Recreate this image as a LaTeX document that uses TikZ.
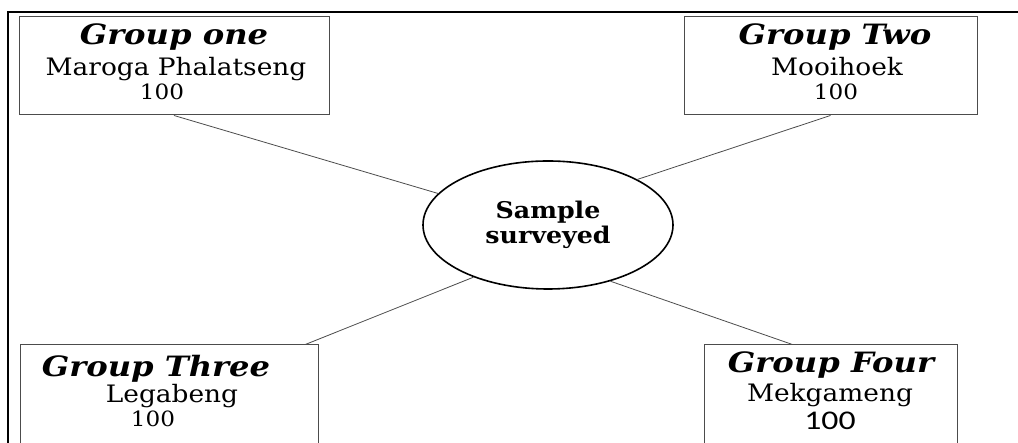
\documentclass[tikz,border=0pt]{standalone}
\usepackage{fontspec}
\setmainfont{DejaVu Serif}[FakeStretch=1.1]
\newfontfamily\titlefont{DejaVu Serif}[FakeStretch=1.15,UprightFont=*,BoldItalicFont=* Bold Italic]
\newfontfamily\carlito{Carlito}[FakeStretch=1.25]
\usetikzlibrary{shapes.geometric,calc}
\tikzset{
  grpbox/.style={draw=black!70, line width=1pt, rectangle, inner sep=0pt, anchor=center},
  title/.style={font=\titlefont\fontsize{28}{32}\selectfont\bfseries\itshape, inner sep=0pt, anchor=base},
  body/.style={font=\fontsize{24}{28}\selectfont, inner sep=0pt, anchor=base},
  num/.style={font=\fontsize{21}{24}\selectfont, inner sep=0pt, anchor=base},
  conn/.style={draw=black!70, line width=0.8pt},
  centre/.style={draw=black, line width=1.6pt, ellipse, inner sep=0pt, minimum width=250pt, minimum height=128pt, align=center, font=\fontsize{23}{25}\selectfont\bfseries}
}
\begin{document}
\begin{tikzpicture}[x=1pt,y=1pt]
\useasboundingbox (0,0) rectangle (1018,443);
\clip (0,0) rectangle (1018,443);
% frame
\coordinate (fa) at (8,0);
\coordinate (fb) at (8,431);
\coordinate (fc) at (1018,431);
\draw[line width=1.4pt] (fa) -- (fb) -- (fc);
% boxes
\node[grpbox, minimum width=310pt, minimum height=98pt] (g1) at (174,377) {};
\node[grpbox, minimum width=293pt, minimum height=98pt] (g2) at (830.5,377) {};
\node[grpbox, minimum width=298pt, minimum height=110pt] (g3) at (169,43) {};
\node[grpbox, minimum width=253pt, minimum height=110pt] (g4) at (830.5,43) {};
% texts
\node[title] (g1a) at (174,398) {Group one};
\node[body]  (g1b) at (176,367) {Maroga Phalatseng};
\node[num]   (g1c) at (162,343) {100};
\node[title] (g2a) at (835,398) {Group Two};
\node[body]  (g2b) at (837,367) {Mooihoek};
\node[num]   (g2c) at (836,343) {100};
\node[title] (g3a) at (156,66) {Group Three};
\node[body]  (g3b) at (172,40) {Legabeng};
\node[num]   (g3c) at (153,16) {100};
\node[title] (g4a) at (831,70) {Group Four};
\node[body]  (g4b) at (830,41) {Mekgameng};
\node[body, font=\carlito\fontsize{27}{30}\selectfont] (g4c) at (830,13) {100};
% centre
\node[centre] (e) at (548,218) {Sample\\surveyed};
% connectors
\draw[conn] (g1.south) -- (e.164);
\draw[conn] (g2.south) -- (e.27);
\draw[conn] ($(g3.north west)!0.956!(g3.north east)$) -- (e.215);
\draw[conn] ($(g4.north west)!0.35!(g4.north east)$) -- (e.318);
\end{tikzpicture}
\end{document}
